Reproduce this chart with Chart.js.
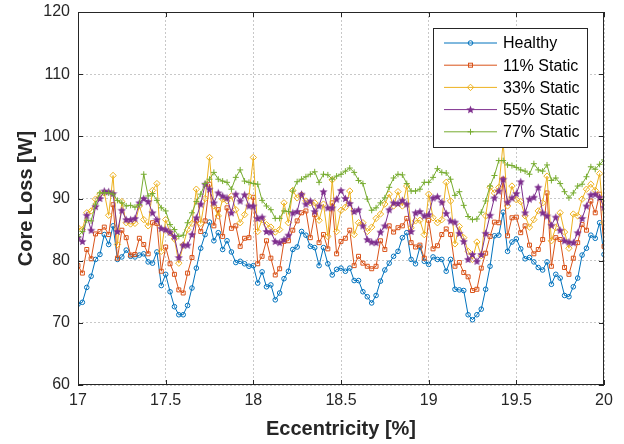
<!DOCTYPE html>
<html>
<head>
<meta charset="utf-8">
<script src="https://cdn.jsdelivr.net/npm/chart.js@4.4.0/dist/chart.umd.min.js"></script>
<style>
body { margin: 0; background: #fff; }
</style>
</head>
<body>
<canvas id="chart1" width="624" height="444"></canvas>
<script>
// core loss readings, 121 samples from 17% to 20% eccentricity
var healthy = [73.0, 73.3, 75.7, 77.5, 80.2, 81.0, 84.2, 82.6, 85.6, 80.2,
    80.6, 81.7, 80.7, 80.6, 80.9, 81.1, 79.8, 79.6, 81.4, 76.0,
    77.8, 75.0, 72.6, 71.3, 71.3, 72.8, 75.6, 78.8, 82.0, 84.2,
    86.2, 83.2, 84.5, 81.8, 83.2, 81.4, 79.7, 79.9, 79.5, 79.1,
    79.2, 76.4, 78.2, 75.8, 76.1, 73.7, 74.8, 77.1, 78.3, 81.8,
    82.2, 84.7, 84.1, 82.3, 82.1, 79.2, 82.1, 79.5, 77.7, 78.6,
    78.8, 78.3, 78.8, 76.8, 76.8, 75.0, 74.2, 73.2, 74.4, 76.7,
    78.5, 79.6, 80.7, 81.5, 83.7, 84.5, 80.2, 79.5, 82.2, 79.9,
    79.4, 80.6, 80.2, 80.2, 78.3, 80.2, 75.4, 75.3, 75.2, 71.3,
    70.5, 71.3, 72.2, 75.4, 79.1, 84.0, 84.1, 87.8, 81.5, 83.0,
    83.5, 81.9, 80.3, 80.5, 79.8, 78.9, 78.5, 79.8, 76.2, 77.8,
    77.2, 74.4, 74.2, 75.8, 77.2, 80.9, 82.0, 84.1, 83.6, 86.1,
    81.0];
var static11 = [79.2, 78.0, 81.8, 80.3, 84.3, 84.7, 85.4, 84.2, 89.0, 80.4,
    84.9, 83.7, 80.9, 81.0, 83.6, 82.6, 81.1, 86.1, 86.0, 78.3,
    82.2, 79.5, 77.8, 75.3, 74.8, 78.0, 80.5, 86.4, 84.7, 86.4,
    92.3, 85.6, 88.2, 83.9, 88.5, 85.2, 85.6, 82.3, 83.6, 83.7,
    90.2, 79.5, 80.7, 83.2, 80.4, 77.7, 78.7, 83.1, 83.2, 84.9,
    86.4, 87.7, 88.0, 83.7, 87.4, 82.9, 84.2, 81.9, 89.3, 81.1,
    83.1, 83.6, 84.9, 79.2, 80.7, 79.6, 79.1, 78.7, 79.1, 83.2,
    81.8, 85.6, 84.6, 85.3, 85.6, 86.8, 82.9, 82.2, 82.5, 80.4,
    86.5, 81.9, 82.4, 84.2, 85.1, 84.2, 79.1, 79.7, 78.1, 77.4,
    75.2, 75.4, 78.8, 81.2, 83.9, 86.2, 86.1, 93.1, 84.0, 86.9,
    87.0, 84.5, 85.6, 82.5, 81.1, 81.8, 83.4, 90.9, 79.1, 83.7,
    83.4, 78.9, 77.8, 80.4, 82.9, 85.8, 84.9, 89.6, 87.7, 90.7,
    82.3];
var static33 = [85.3, 85.0, 87.7, 88.0, 89.9, 90.7, 90.9, 87.3, 93.7, 82.6,
    89.5, 86.1, 85.9, 86.0, 88.8, 86.6, 85.6, 91.3, 92.4, 81.5,
    86.6, 84.5, 83.5, 79.6, 82.5, 85.0, 86.0, 91.5, 86.0, 90.0,
    96.6, 88.8, 87.2, 89.9, 89.6, 90.4, 88.2, 86.1, 87.4, 90.4,
    96.6, 84.7, 86.6, 85.8, 85.4, 84.6, 85.0, 89.3, 86.1, 91.3,
    90.1, 90.6, 89.6, 89.3, 89.3, 86.5, 89.1, 83.9, 93.0, 84.7,
    88.1, 88.6, 91.2, 84.2, 86.1, 86.1, 84.7, 85.4, 86.8, 87.5,
    89.1, 90.7, 88.8, 91.1, 88.8, 92.0, 85.3, 86.4, 86.5, 84.2,
    90.7, 86.9, 86.1, 86.6, 92.6, 89.6, 82.7, 85.5, 83.7, 81.5,
    80.2, 83.0, 80.8, 87.2, 91.8, 90.9, 91.8, 99.0, 88.8, 92.0,
    89.8, 89.5, 87.2, 85.4, 86.6, 88.0, 89.3, 93.6, 83.2, 85.3,
    87.7, 84.6, 82.0, 87.5, 87.2, 89.9, 91.5, 92.3, 91.3, 94.0,
    86.1];
var static55 = [83.7, 83.1, 87.3, 84.9, 88.7, 90.0, 91.2, 91.1, 90.8, 84.7,
    88.1, 86.6, 86.6, 86.8, 89.3, 90.0, 89.5, 87.7, 86.6, 85.2,
    85.0, 84.6, 83.9, 80.5, 82.5, 82.5, 84.2, 86.9, 89.1, 92.3,
    91.5, 89.3, 90.9, 90.4, 90.1, 87.7, 90.7, 89.6, 90.6, 88.8,
    88.8, 86.8, 87.0, 84.7, 84.6, 83.1, 82.9, 83.4, 84.1, 87.7,
    87.9, 90.7, 89.1, 89.6, 87.9, 88.8, 91.1, 88.5, 88.5, 89.9,
    91.3, 90.0, 89.2, 87.9, 88.2, 85.6, 83.4, 83.0, 82.9, 84.6,
    85.6, 88.2, 89.3, 89.2, 89.7, 89.1, 84.7, 87.7, 87.9, 87.2,
    87.4, 90.1, 90.3, 89.4, 87.6, 86.4, 86.2, 84.4, 83.1, 80.2,
    81.0, 79.9, 81.0, 84.4, 87.3, 90.1, 91.2, 93.1, 89.4, 90.1,
    90.8, 92.7, 87.7, 89.9, 90.2, 91.8, 87.7, 87.2, 85.7, 87.0,
    84.9, 83.2, 83.0, 82.9, 84.5, 86.8, 88.8, 90.6, 90.7, 90.2,
    88.6];
var static77 = [83.9, 84.7, 86.5, 86.4, 89.1, 90.9, 90.9, 90.9, 90.7, 89.7,
    89.3, 88.8, 88.9, 88.6, 89.0, 93.9, 90.4, 90.8, 89.7, 88.5,
    88.0, 85.8, 85.0, 83.9, 84.1, 86.1, 87.7, 89.5, 90.7, 92.4,
    93.1, 94.2, 93.1, 92.8, 92.6, 91.5, 93.4, 94.6, 92.8, 92.6,
    92.4, 92.3, 89.7, 88.8, 88.2, 86.8, 86.8, 88.0, 87.9, 91.2,
    92.7, 93.1, 93.5, 93.9, 94.3, 92.6, 93.9, 93.8, 93.1, 93.6,
    93.9, 94.4, 94.9, 94.2, 92.9, 92.4, 89.9, 88.1, 88.5, 89.3,
    90.1, 91.8, 93.3, 93.9, 93.8, 92.4, 91.2, 91.2, 91.5, 92.6,
    92.6, 93.4, 94.8, 94.2, 94.1, 93.1, 90.5, 91.1, 88.9, 87.1,
    86.6, 86.7, 87.8, 89.6, 92.0, 93.7, 96.1, 96.1, 95.4, 95.3,
    95.0, 94.6, 94.4, 93.9, 95.6, 94.6, 94.4, 95.4, 92.9, 93.3,
    92.4, 91.1, 90.1, 90.9, 92.0, 92.3, 93.5, 95.1, 94.7, 95.5,
    96.2];

var seriesNames = ['Healthy', '11% Static', '33% Static', '55% Static', '77% Static'];
var xTicks = [17, 17.5, 18, 18.5, 19, 19.5, 20];
var xTickLabels = ['17', '17.5', '18', '18.5', '19', '19.5', '20'];
var yTicks = [60, 70, 80, 90, 100, 110, 120];

var ecc = [];
for (var i = 0; i < healthy.length; i++) ecc.push(Math.round((17 + i * 0.025) * 1000) / 1000);

var colors = ['#0072BD', '#D95319', '#EDB120', '#7E2F8E', '#77AC30'];
var markers = ['circle', 'rect', 'rectRot', 'pent', 'cross'];
var radii = [2.3, 2.8, 3.2, 0, 3];

function makeStar(color) {
    var c = document.createElement('canvas');
    c.width = 9; c.height = 9;
    var g = c.getContext('2d');
    g.beginPath();
    for (var k = 0; k < 10; k++) {
        var r = k % 2 === 0 ? 4.3 : 1.9;
        var a = -Math.PI / 2 + k * Math.PI / 5;
        var px = 4.5 + r * Math.cos(a), py = 4.8 + r * Math.sin(a);
        if (k) g.lineTo(px, py); else g.moveTo(px, py);
    }
    g.closePath();
    g.fillStyle = color;
    g.fill();
    return c;
}
var starImg = makeStar(colors[3]);

function pts(vals) {
    return vals.map(function (v, j) { return { x: ecc[j], y: v }; });
}

var allSeries = [healthy, static11, static33, static55, static77];
var datasets = allSeries.map(function (vals, k) {
    return {
        label: seriesNames[k],
        data: pts(vals),
        borderColor: colors[k],
        backgroundColor: colors[k],
        borderWidth: 1,
        pointStyle: markers[k] === 'pent' ? starImg : markers[k],
        pointRadius: markers[k] === 'pent' ? 4 : radii[k],
        pointBorderWidth: 1,
        pointBorderColor: colors[k],
        pointBackgroundColor: 'rgba(0,0,0,0)',
        tension: 0,
        order: 4 - k
    };
});

// box, inward ticks and legend drawn like the matlab figure
var frame = {
    id: 'frame',
    afterDraw: function (chart) {
        var ctx = chart.ctx, a = chart.chartArea;
        var xs = chart.scales.x, ys = chart.scales.y;
        ctx.save();
        ctx.strokeStyle = '#262626';
        ctx.lineWidth = 1;
        ctx.strokeRect(a.left + 0.5, a.top + 0.5, a.right - a.left - 1, a.bottom - a.top - 1);
        ctx.beginPath();
        xTicks.forEach(function (t) {
            var px = Math.round(xs.getPixelForValue(t)) + 0.5;
            ctx.moveTo(px, a.bottom); ctx.lineTo(px, a.bottom - 5);
            ctx.moveTo(px, a.top); ctx.lineTo(px, a.top + 5);
        });
        yTicks.forEach(function (t) {
            var py = Math.round(ys.getPixelForValue(t)) + 0.5;
            ctx.moveTo(a.left, py); ctx.lineTo(a.left + 5, py);
            ctx.moveTo(a.right, py); ctx.lineTo(a.right - 5, py);
        });
        ctx.stroke();

        // legend
        var lx = 433, ly = 28, lw = 154, lh = 119;
        ctx.fillStyle = '#fff';
        ctx.fillRect(lx, ly, lw, lh);
        ctx.strokeStyle = '#262626';
        ctx.strokeRect(lx + 0.5, ly + 0.5, lw, lh);
        ctx.font = '16px "Liberation Sans", Arial, sans-serif';
        ctx.textBaseline = 'middle';
        ctx.textAlign = 'left';
        seriesNames.forEach(function (name, k) {
            var cy = 43 + k * 22.2;
            var c = colors[k];
            ctx.strokeStyle = c;
            ctx.lineWidth = 1;
            ctx.beginPath();
            ctx.moveTo(444, cy); ctx.lineTo(497, cy);
            ctx.stroke();
            var mx = 470.5;
            ctx.beginPath();
            if (markers[k] === 'circle') {
                ctx.arc(mx, cy, 2.3, 0, Math.PI * 2);
                ctx.stroke();
            } else if (markers[k] === 'rect') {
                ctx.strokeRect(mx - 2, cy - 2, 4, 4);
            } else if (markers[k] === 'rectRot') {
                ctx.moveTo(mx, cy - 3.2); ctx.lineTo(mx + 3.2, cy);
                ctx.lineTo(mx, cy + 3.2); ctx.lineTo(mx - 3.2, cy);
                ctx.closePath(); ctx.stroke();
            } else if (markers[k] === 'pent') {
                ctx.drawImage(starImg, mx - 4.5, cy - 4.5);
            } else {
                ctx.moveTo(mx - 3, cy); ctx.lineTo(mx + 3, cy);
                ctx.moveTo(mx, cy - 3); ctx.lineTo(mx, cy + 3);
                ctx.stroke();
            }
            ctx.fillStyle = '#000';
            ctx.fillText(name, 503, cy + 1);
        });
        ctx.restore();
    }
};

var ctx = document.getElementById('chart1').getContext('2d');
var chart1 = new Chart(ctx, {
    type: 'line',
    data: { datasets: datasets },
    options: {
        responsive: false,
        animation: false,
        devicePixelRatio: 1,
        layout: { padding: { left: 0, top: 12, right: 20, bottom: 0 } },
        plugins: {
            legend: { display: false },
            tooltip: { enabled: false }
        },
        scales: {
            x: {
                type: 'linear',
                min: 17,
                max: 20,
                afterFit: function (s) { s.height = 59; },
                afterBuildTicks: function (s) { s.ticks = xTicks.map(function (v) { return { value: v }; }); },
                ticks: {
                    padding: 6,
                    color: '#262626',
                    font: { family: '"Liberation Sans", Arial, sans-serif', size: 16 },
                    callback: function (v, idx) { return xTickLabels[idx]; }
                },
                grid: { color: '#c8c8c8', drawTicks: false },
                border: { display: false, dash: [2, 2] },
                title: {
                    display: true,
                    text: 'Eccentricity [%]',
                    color: '#262626',
                    padding: { top: 0, bottom: 3 },
                    font: { family: '"Liberation Sans", Arial, sans-serif', size: 20, weight: 'bold' }
                }
            },
            y: {
                min: 60,
                max: 120,
                afterFit: function (s) { s.width = 78; s.paddingTop = 0; s.paddingBottom = 0; },
                afterBuildTicks: function (s) { s.ticks = yTicks.map(function (v) { return { value: v }; }); },
                ticks: {
                    padding: 8,
                    color: '#262626',
                    font: { family: '"Liberation Sans", Arial, sans-serif', size: 16 }
                },
                grid: { color: '#c8c8c8', drawTicks: false },
                border: { display: false, dash: [2, 2] },
                title: {
                    display: true,
                    text: 'Core Loss [W]',
                    color: '#262626',
                    padding: { top: 14, bottom: 0 },
                    font: { family: '"Liberation Sans", Arial, sans-serif', size: 20, weight: 'bold' }
                }
            }
        }
    },
    plugins: [frame]
});
</script>
</body>
</html>
